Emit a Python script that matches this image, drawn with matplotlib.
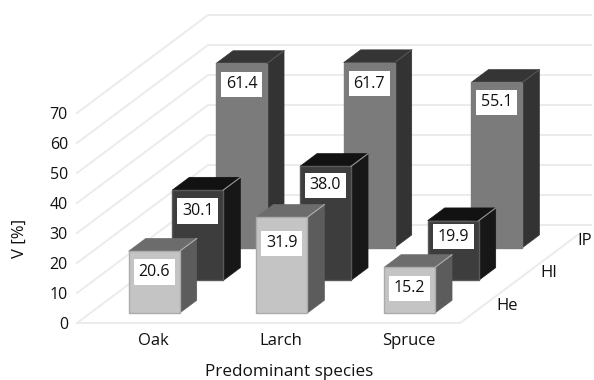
import matplotlib
matplotlib.use('Agg')
import matplotlib.pyplot as plt
from matplotlib.patches import Polygon

species = ['Oak', 'Larch', 'Spruce']
rows = ['He', 'HI', 'IP']
he = [20.6, 31.9, 15.2]
hi = [30.1, 38.0, 19.9]
ip = [61.4, 61.7, 55.1]
yticks = [0, 10, 20, 30, 40, 50, 60, 70]

# oblique projection of the 3d box, everything ends up in figure pixels
X0, Y0 = 77, 323
CAT_W = 127.67
Y_SCALE = 3.0
ROW_DX, ROW_DY = 43.67, 32.67
BAR_W = 51 / CAT_W   # in categories
BAR_D = 0.39         # in rows

# how far each value box sits below the top of its bar
label_drop = {
    'He': [21, 26, 21],
    'HI': [21, 19, 16],
    'IP': [21, 21, 20],
}

def proj(cat, row, val):
    return (X0 + cat * CAT_W + row * ROW_DX, Y0 - val * Y_SCALE - row * ROW_DY)

colors = {
    'He': dict(front='#c4c4c4', side='#5c5c5c', top='#6c6c6c', edge='#ababab', corner='#b0b0b0'),
    'HI': dict(front='#3d3d3d', side='#171717', top='#121212', edge='#5a5a5a', corner='#9a9a9a'),
    'IP': dict(front='#7b7b7b', side='#333333', top='#353535', edge='#7b7b7b', corner='#555555'),
}

fig = plt.figure(figsize=(5.94, 3.8), dpi=100)
plt.rcParams['font.family'] = ['Open Sans', 'DejaVu Sans']
ax = fig.add_axes([0, 0, 1, 1])
ax.set_xlim(0, 594)
ax.set_ylim(380, 0)
ax.axis('off')

grid = '#ebebeb'
ncat = len(species)
nrow = len(rows)

# walls and floor
for v in yticks:
    a = proj(0, 0, v)
    b = proj(0, nrow, v)
    c = proj(ncat, nrow, v)
    ax.plot([a[0], b[0], c[0]], [a[1], b[1], c[1]], color=grid, lw=1.4, zorder=1)
a = proj(0, 0, 0)
b = proj(ncat, 0, 0)
c = proj(ncat, nrow - 0.25, 0)
ax.plot([a[0], b[0], c[0]], [a[1], b[1], c[1]], color=grid, lw=1.4, zorder=1)

def draw_bar(cat, row, val, col):
    x1 = cat + (1 - BAR_W) / 2
    x2 = x1 + BAR_W
    r1 = row + (1 - BAR_D) / 2
    r2 = r1 + BAR_D
    side = [proj(x2, r1, 0), proj(x2, r2, 0), proj(x2, r2, val), proj(x2, r1, val)]
    top = [proj(x1, r1, val), proj(x2, r1, val), proj(x2, r2, val), proj(x1, r2, val)]
    front = [proj(x1, r1, 0), proj(x2, r1, 0), proj(x2, r1, val), proj(x1, r1, val)]
    ax.add_patch(Polygon(side, fc=col['side'], ec=col['side'], lw=0.5, zorder=2))
    ax.add_patch(Polygon(top, fc=col['top'], ec=col['top'], lw=0.5, zorder=2))
    ax.add_patch(Polygon(front, fc=col['front'], ec=col['edge'], lw=1.0, zorder=2))
    # thin light edge along the upper right corner
    p = proj(x2, r1, val)
    q = proj(x2, r2, val)
    ax.plot([p[0], q[0]], [p[1], q[1]], color=col['corner'], lw=0.8, zorder=2)

# back row first so the front bars cover it
values = {'He': he, 'HI': hi, 'IP': ip}
for r in range(nrow - 1, -1, -1):
    name = rows[r]
    for i in range(ncat):
        draw_bar(i, r, values[name][i], colors[name])

for r in range(nrow):
    name = rows[r]
    for i in range(ncat):
        val = values[name][i]
        x1 = i + (1 - BAR_W) / 2
        r1 = r + (1 - BAR_D) / 2
        px, py = proj(x1 + BAR_W / 2, r1, val)
        ax.text(px, py + label_drop[name][i], '%.1f' % val, ha='center', va='center',
                fontsize=11.5, color='#111111', zorder=5,
                bbox=dict(boxstyle='square,pad=0.3', fc='white', ec='none'))

for v in yticks:
    px, py = proj(0, 0, v)
    ax.text(px - 9, py + 2, str(v), ha='right', va='center', fontsize=11.5, color='#111111')

for i, s in enumerate(species):
    px, py = proj(i + 0.5, 0.28, 0)
    ax.text(px, 341, s, ha='center', va='center', fontsize=12, color='#111111')

for r, name in enumerate(rows):
    px, py = proj(ncat, r + 0.5, 0)
    # the last label stays inside the figure
    ax.text(min(px + 15, 577), py - 0.5, name, ha='left', va='center', fontsize=12, color='#111111')

ax.text(20, 238, 'V [%]', rotation=90, ha='center', va='center', fontsize=12, color='#111111')
ax.text(289, 372, 'Predominant species', ha='center', va='center', fontsize=12.3, color='#111111')

fig.savefig('out.png', dpi=100)
